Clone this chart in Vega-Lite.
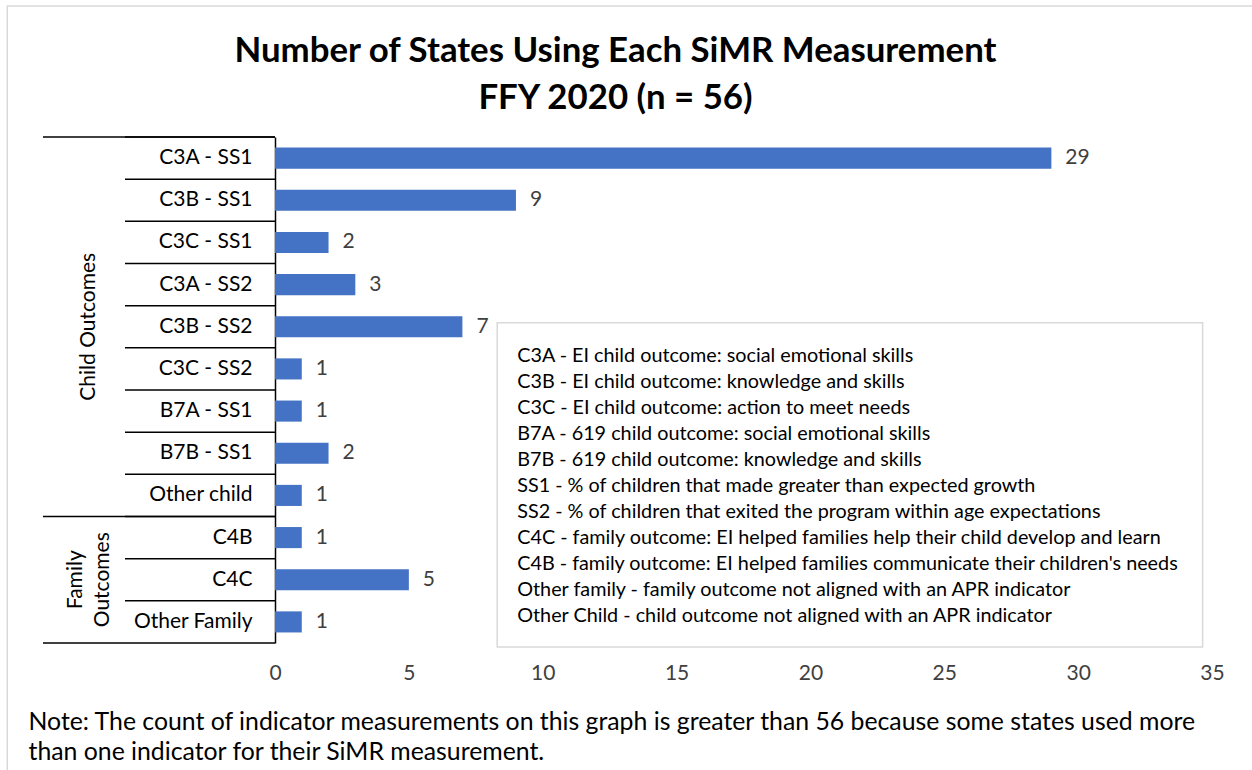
{
  "$schema": "https://vega.github.io/schema/vega-lite/v6.json",
  "width": 937,
  "height": 506,
  "autosize": "none",
  "padding": {"left": 275, "top": 137, "right": 40, "bottom": 127},
  "background": "white",
  "config": {"view": {"stroke": null}, "font": "Lato"},
  "title": {
    "text": ["Number of States Using Each SiMR Measurement", "FFY 2020 (n = 56)"],
    "anchor": "middle",
    "frame": "group",
    "dx": -128,
    "baseline": "bottom",
    "fontSize": 34.8,
    "font": "Lato",
    "fontWeight": "bold",
    "color": "black",
    "lineHeight": 47,
    "offset": -146
  },
  "data": {
    "values": [
      {"m": "C3A - SS1", "n": 29},
      {"m": "C3B - SS1", "n": 9},
      {"m": "C3C - SS1", "n": 2},
      {"m": "C3A - SS2", "n": 3},
      {"m": "C3B - SS2", "n": 7},
      {"m": "C3C - SS2", "n": 1},
      {"m": "B7A - SS1", "n": 1},
      {"m": "B7B - SS1", "n": 2},
      {"m": "Other child", "n": 1},
      {"m": "C4B", "n": 1},
      {"m": "C4C", "n": 5},
      {"m": "Other Family", "n": 1}
    ]
  },
  "layer": [
    {
      "mark": {"type": "bar", "color": "#4472C4"},
      "encoding": {
        "y": {
          "field": "m", "type": "nominal", "sort": null,
          "scale": {"paddingInner": 0.5, "paddingOuter": 0.25},
          "axis": {
            "title": null,
            "domainColor": "black", "domainWidth": 1.5,
            "ticks": false,
            "labelPadding": 23,
            "labelFontSize": 21, "labelColor": "black", "labelFont": "Lato",
            "labelAlign": "right"
          }
        },
        "x": {
          "field": "n", "type": "quantitative",
          "scale": {"domain": [0, 35], "nice": false},
          "axis": {
            "values": [0, 5, 10, 15, 20, 25, 30, 35],
            "grid": false, "domain": false, "ticks": false, "labelFlush": false,
            "labelPadding": 19, "labelFontSize": 21, "labelColor": "#404040", "labelFont": "Lato",
            "title": ["Note: The count of indicator measurements on this graph is greater than 56 because some states used more", "than one indicator for their SiMR measurement."],
            "titleX": -247, "titleY": 66, "titleAlign": "left", "titleAnchor": "start",
            "titleBaseline": "top", "titleFontSize": 24.8, "titleFontWeight": "normal",
            "titleColor": "black", "titleFont": "Lato", "titleLineHeight": 30
          }
        }
      }
    },
    {
      "mark": {"type": "text", "align": "left", "baseline": "middle", "dx": 14, "fontSize": 21, "color": "#404040", "font": "Lato"},
      "encoding": {
        "y": {"field": "m", "type": "nominal", "sort": null},
        "x": {"field": "n", "type": "quantitative"},
        "text": {"field": "n", "type": "quantitative"}
      }
    },
    {
      "mark": {"type": "rule", "color": "black", "strokeWidth": 1.5},
      "encoding": {
        "y": {"field": "m", "type": "nominal", "sort": null, "bandPosition": -0.5},
        "x": {"datum": -5.603, "type": "quantitative"},
        "x2": {"datum": 0}
      }
    },
    {
      "data": {"values": [{}]},
      "mark": {"type": "rect", "fill": null, "stroke": "#d9d9d9", "strokeWidth": 1.5, "yOffset": -141.5, "y2Offset": 200},
      "encoding": {
        "x": {"datum": -10.0, "type": "quantitative"},
        "x2": {"datum": 45},
        "y": {"datum": "C3A - SS1", "type": "nominal", "bandPosition": 0},
        "y2": {"datum": "Other Family", "bandPosition": 1}
      }
    },
    {
      "data": {"values": [{}]},
      "mark": {"type": "rule", "color": "black", "strokeWidth": 1.5},
      "encoding": {
        "x": {"datum": -8.667, "type": "quantitative"},
        "x2": {"datum": 0},
        "y": {"datum": "C3A - SS1", "type": "nominal", "bandPosition": -0.5}
      }
    },
    {
      "data": {"values": [{}]},
      "mark": {"type": "rule", "color": "black", "strokeWidth": 1.5},
      "encoding": {
        "x": {"datum": -8.667, "type": "quantitative"},
        "x2": {"datum": 0},
        "y": {"datum": "C4B", "type": "nominal", "bandPosition": -0.5}
      }
    },
    {
      "data": {"values": [{}]},
      "mark": {"type": "rule", "color": "black", "strokeWidth": 1.5},
      "encoding": {
        "x": {"datum": -8.667, "type": "quantitative"},
        "x2": {"datum": 0},
        "y": {"datum": "Other Family", "type": "nominal", "bandPosition": 1.5}
      }
    },
    {
      "data": {"values": [{}]},
      "mark": {"type": "text", "text": "Child Outcomes", "angle": 270, "align": "center", "baseline": "middle", "fontSize": 21, "color": "black", "font": "Lato"},
      "encoding": {
        "x": {"datum": -6.95, "type": "quantitative"},
        "y": {"datum": "C3B - SS2", "type": "nominal"}
      }
    },
    {
      "data": {"values": [{}]},
      "mark": {"type": "text", "text": ["Family", "Outcomes"], "angle": 270, "align": "center", "baseline": "middle", "fontSize": 21, "lineHeight": 27, "color": "black", "font": "Lato"},
      "encoding": {
        "x": {"datum": -7.45, "type": "quantitative"},
        "y": {"datum": "C4C", "type": "nominal"}
      }
    },
    {
      "data": {"values": [{}]},
      "mark": {"type": "rect", "fill": "white", "stroke": "#d9d9d9", "strokeWidth": 1.5, "yOffset": 6.5, "y2Offset": 14.5},
      "encoding": {
        "x": {"datum": 8.3, "type": "quantitative"},
        "x2": {"datum": 34.65},
        "y": {"datum": "C3B - SS2", "type": "nominal", "bandPosition": 0},
        "y2": {"datum": "Other Family", "bandPosition": 1}
      }
    },
    {
      "data": {"values": [{}]},
      "mark": {
        "type": "text",
        "text": [
          "C3A - EI child outcome: social emotional skills",
          "C3B - EI child outcome: knowledge and skills",
          "C3C - EI child outcome: action to meet needs",
          "B7A - 619 child outcome: social emotional skills",
          "B7B - 619 child outcome: knowledge and skills",
          "SS1 - % of children that made greater than expected growth",
          "SS2 - % of children that exited the program within age expectations",
          "C4C - family outcome: EI helped families help their child develop and learn",
          "C4B - family outcome: EI helped families communicate their children's needs",
          "Other family - family outcome not aligned with an APR indicator",
          "Other Child - child outcome not aligned with an APR indicator"
        ],
        "align": "left", "baseline": "top", "dx": 20, "dy": 30,
        "fontSize": 19.8, "lineHeight": 26, "color": "black", "font": "Lato"
      },
      "encoding": {
        "x": {"datum": 8.3, "type": "quantitative"},
        "y": {"datum": "C3B - SS2", "type": "nominal", "bandPosition": 0}
      }
    }
  ]
}
